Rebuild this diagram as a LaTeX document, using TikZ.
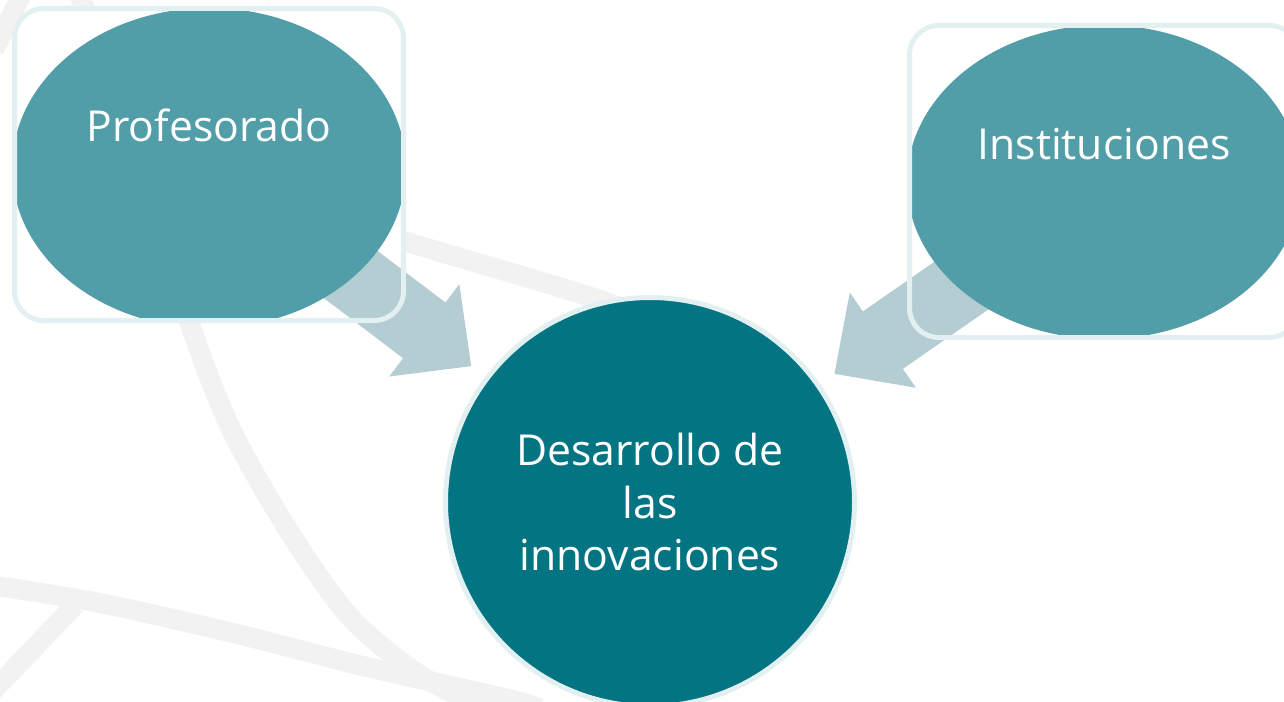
\documentclass[tikz,border=0pt]{standalone}
\usepackage{fontspec}
\setmainfont{Open Sans}
\usepackage{tikz}
\usetikzlibrary{calc}
\definecolor{swooshgray}{RGB}{242,242,242}
\definecolor{frameline}{RGB}{227,240,242}
\definecolor{ovalteal}{RGB}{81,158,169}
\definecolor{hubteal}{RGB}{3,116,129}
\definecolor{arrowblue}{RGB}{179,205,211}

\tikzset{
  swoosh/.style={draw=swooshgray, line width=15pt},
  framebox/.style={draw=frameline, line width=3.75pt, rounded corners=22pt},
  ovaltext/.style={text=white, anchor=base, inner sep=0pt, font=\fontsize{32}{38}\selectfont},
  hubnode/.style={circle, fill=hubteal, draw=frameline, line width=3.75pt,
    minimum size=306.75pt, inner sep=0pt, text=white, align=center,
    font=\fontsize{32}{39.4}\selectfont}
}

% fat arrow from a tail coordinate to a tip coordinate
\newcommand{\fatarrow}[2]{%
  \coordinate (#1-neck) at ($(#2)!44.25pt!(#1)$);
  \fill[arrowblue] ($(#1)!26.25pt!90:(#2)$) -- ($(#1-neck)!26.25pt!90:(#2)$)
    -- ($(#1-neck)!43.5pt!90:(#2)$) -- (#2) -- ($(#1-neck)!43.5pt!-90:(#2)$)
    -- ($(#1-neck)!26.25pt!-90:(#2)$) -- ($(#1)!26.25pt!-90:(#2)$) -- cycle;}

\begin{document}
\begin{tikzpicture}[x=0.75pt, y=-0.75pt]
\clip (0,0) rectangle (1284,702);
% Background swooshes
\draw[swoosh] plot[smooth] coordinates {(78,-10) (140,170) (193,333) (233,433) (290,533) (350,617) (417,673) (490,712)};
\draw[swoosh] plot[smooth] coordinates {(-10,585) (100,603) (233,633) (367,667) (500,697) (540,708)};
\draw[swoosh] (-10,694) -- (75,605);
\draw[swoosh] plot[smooth] coordinates {(320,215) (410,243) (600,300) (680,335)};
\draw[swoosh] (24,-10) -- (-6,50);
% Frames
\fill[white, rounded corners=22pt] (14.5,8.5) rectangle (403.5,320.5);
\fill[white, rounded corners=22pt] (909.5,25.5) rectangle (1298.5,337.5);
% Hub
\node[hubnode] (hub) at (650,502) {Desarrollo de\\las\\innovaciones};
% Arrows
\coordinate (profTail) at (281,221.5);
\coordinate (instTail) at (1030.6,237.5);
\coordinate (profTip) at ($(hub.center)!168.45pt!(profTail)$);
\coordinate (instTip) at ($(hub.center)!168.45pt!(instTail)$);
\fatarrow{profTail}{profTip}
\fatarrow{instTail}{instTip}
% Ovals
\begin{scope}
\clip (17,11) rectangle (401,317);
\fill[ovalteal] (209,168) ellipse [x radius=197, y radius=160];
\end{scope}
\begin{scope}
\clip (912,28) rectangle (1296,335);
\fill[ovalteal] (1104,182) ellipse [x radius=197, y radius=157];
\end{scope}
\draw[framebox] (14.5,8.5) rectangle (403.5,320.5);
\draw[framebox] (909.5,25.5) rectangle (1298.5,337.5);
% Labels
\node[ovaltext] (profesorado) at (209,142) {Profesorado};
\node[ovaltext] (instituciones) at (1104,160) {Instituciones};
\end{tikzpicture}
\end{document}
